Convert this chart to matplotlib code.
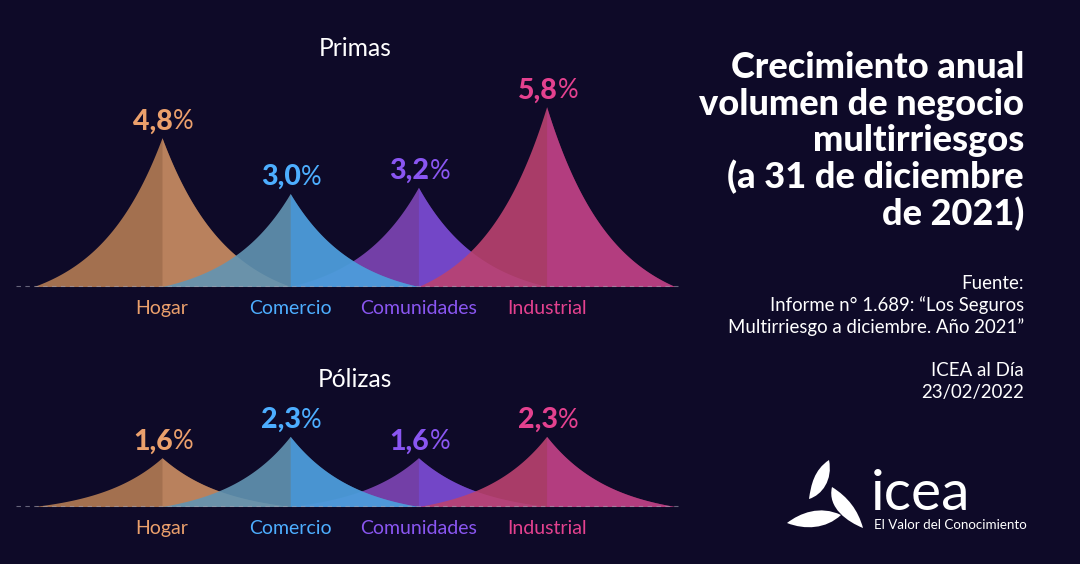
#!/usr/bin/env python3
"""Crecimiento anual del volumen de negocio multirriesgos (ICEA)."""

import matplotlib
matplotlib.use("Agg")
import matplotlib.pyplot as plt
import numpy as np
from matplotlib.path import Path
from matplotlib.patches import PathPatch
from matplotlib.transforms import offset_copy

categories = ["Hogar", "Comercio", "Comunidades", "Industrial"]
primas = [4.8, 3.0, 3.2, 5.8]
polizas = [1.6, 2.3, 1.6, 2.3]
primas_labels = ["4,8", "3,0", "3,2", "5,8"]
polizas_labels = ["1,6", "2,3", "1,6", "2,3"]

colors = ["#EBA06C", "#4DAEFF", "#8A56F2", "#E4418F"]
left_fill = ["#B47C54", "#6295B3", "#7F46B6", "#BB4270"]
right_fill = ["#CF936C", "#3AA3FF", "#744EE8", "#BE3E97"]
# blue sits over the purple, the others go left to right
layer = [0, 2, 1, 3]

BG = "#0E0A28"
W, H = 1080, 564
FONT = "Lato"

plt.rcParams["font.family"] = FONT

fig = plt.figure(figsize=(W / 100, H / 100), dpi=100, facecolor=BG)


def px_axes(left, top, right, bottom):
    return fig.add_axes([left / W, 1 - bottom / H, (right - left) / W, (bottom - top) / H])


def flank(t):
    # profile of a peak side, 0 at the base and 1 at the tip
    return (np.exp(2.0 * t) - 1) / (np.exp(2.0) - 1)


def draw_peaks(ax, values, labels, title, px_per_unit):
    x0, dx = 162.0, 128.2
    x_left, x_right = ax.get_position().x0 * W, ax.get_position().x1 * W
    ax.set_xlim((x_left - x0) / dx, (x_right - x0) / dx)
    height_px = ax.get_position().height * H
    ax.set_ylim(0, height_px / px_per_unit)
    ax.set_facecolor("none")
    for s in ax.spines.values():
        s.set_visible(False)
    ax.set_yticks([])
    ax.set_xticks(range(len(categories)), categories, fontsize=14)
    ax.tick_params(axis="x", length=0, pad=10)
    for tick, c in zip(ax.get_xticklabels(), colors):
        tick.set_color(c)

    # curved columns: whole peak first, then a lighter right half on top,
    # that way no dark seam shows at the tip line
    for i, v in enumerate(values):
        t = np.linspace(0, 1, 80)
        xs = np.concatenate([i - 1 + t, i + t[1:]])
        ys = np.concatenate([v * flank(t), v * flank(1 - t[1:])])
        ax.fill_between(xs, 0, ys, color=left_fill[i], alpha=0.9, lw=0, zorder=2 + layer[i])
        ax.fill_between(i + t, 0, v * flank(1 - t), color=right_fill[i], alpha=0.5, lw=0,
                        zorder=2 + layer[i])

        trans = offset_copy(ax.transData, fig=fig, x=8, y=6, units="points")
        ax.text(i, v, labels[i], transform=trans, ha="right", va="baseline",
                color=colors[i], fontsize=20.5, fontweight="black", zorder=10)
        ax.text(i, v, "%", transform=trans, ha="left", va="baseline",
                color=colors[i], fontsize=18.5, zorder=10)

    ax.axhline(0.03, xmax=662 / 678, color="#A0A0B0", lw=0.8, ls=(0, (4, 4)), alpha=0.6,
               zorder=12, clip_on=False)
    ax.set_title(title, color="white", fontsize=17.7, pad=4)


ax_top = px_axes(16, 62, 694, 286.5)
draw_peaks(ax_top, primas, primas_labels, "Primas", 31.0)
ax_bottom = px_axes(16, 393, 694, 506.5)
draw_peaks(ax_bottom, polizas, polizas_labels, "Pólizas", 30.5)

# right column
title_lines = ["Crecimiento anual", "volumen de negocio", "multirriesgos", "(a 31 de diciembre", "de 2021)"]
for i, line in enumerate(title_lines):
    fig.text(1024 / W, 1 - (78 + i * 36.7) / H, line, ha="right", va="baseline",
             color="white", fontsize=26, fontweight="black")

source_lines = [("Fuente:", 289), ("Informe n° 1.689: “Los Seguros", 311),
                ("Multirriesgo a diciembre. Año 2021”", 333),
                ("ICEA al Día", 376), ("23/02/2022", 398)]
for line, y in source_lines:
    fig.text(1024 / W, 1 - y / H, line, ha="right", va="baseline", color="white", fontsize=13.4)

# logo
logo = fig.add_axes([0, 0, 1, 1], zorder=20)
logo.set_xlim(0, W)
logo.set_ylim(H, 0)
logo.axis("off")
C4 = Path.CURVE4
leaves = [
    [(829, 460), (814, 470), (811, 485), (809, 499), (822, 495), (833, 480), (829, 460)],
    [(832, 487), (848, 497), (858, 510), (863, 528), (848, 522), (827, 508), (832, 487)],
    [(787, 523), (800, 513), (820, 505), (841, 515), (826, 529), (805, 530), (787, 523)],
]
for pts in leaves:
    codes = [Path.MOVETO] + [C4] * (len(pts) - 1)
    logo.add_patch(PathPatch(Path(pts, codes), facecolor="white", edgecolor="none"))
logo.text(871, 510, "icea", color="white", fontsize=41, ha="left", va="baseline")
logo.text(874, 529, "El Valor del Conocimiento", color="white", fontsize=9.6, ha="left", va="baseline")

fig.savefig("out.png", dpi=100, facecolor=BG)
